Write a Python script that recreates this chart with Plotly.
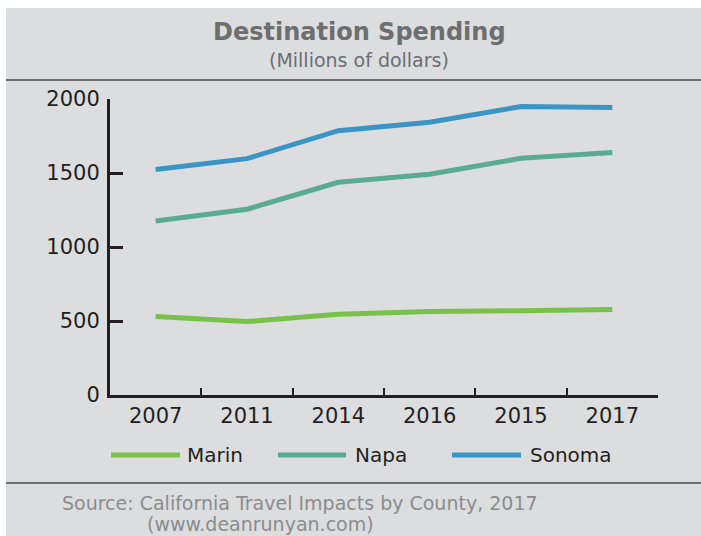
import plotly.graph_objects as go

# Data (millions of dollars)
years = ["2007", "2011", "2014", "2016", "2015", "2017"]
marin = [530, 496, 545, 564, 570, 577]
napa = [1176, 1255, 1437, 1491, 1599, 1638]
sonoma = [1523, 1597, 1786, 1843, 1949, 1942]
y_ticks = [0, 500, 1000, 1500, 2000]

series = [
    ("Marin", marin, "#79c14b"),
    ("Napa", napa, "#5aac90"),
    ("Sonoma", sonoma, "#3a94c4"),
]

W, H = 701, 536
ML, MR, MT, MB = 110, 43, 99, 141
PW, PH = W - ML - MR, H - MT - MB

BG = "#dcdddf"
DARK = "#231f20"
GREY = "#6d6e70"
FONT = "DejaVu Sans"


def px(xp):
    return (xp - ML) / PW


def py(yp):
    return (H - MB - yp) / PH


fig = go.Figure()
for name, vals, color in series:
    fig.add_trace(go.Scatter(
        x=years, y=vals, name=name, mode="lines",
        line=dict(color=color, width=5), showlegend=False,
    ))

shapes = [
    # grey panel with white border strip on top and left
    dict(type="rect", xref="paper", yref="paper", layer="below",
         x0=px(6), x1=px(W + 2), y0=py(H + 2), y1=py(8),
         fillcolor=BG, line=dict(width=0)),
    # separator rules
    dict(type="line", xref="paper", yref="paper",
         x0=px(6), x1=px(W + 2), y0=py(80), y1=py(80),
         line=dict(color=GREY, width=2)),
    dict(type="line", xref="paper", yref="paper",
         x0=px(6), x1=px(W + 2), y0=py(483), y1=py(483),
         line=dict(color=GREY, width=2)),
]

annotations = [
    dict(text="<b>Destination Spending</b>", xref="paper", yref="paper",
         x=px(359), y=py(32), showarrow=False, xanchor="center", yanchor="middle",
         font=dict(family=FONT, size=24, color=GREY)),
    dict(text="(Millions of dollars)", xref="paper", yref="paper",
         x=px(359), y=py(60), showarrow=False, xanchor="center", yanchor="middle",
         font=dict(family=FONT, size=19, color=GREY)),
    dict(text="Source: California Travel Impacts by County, 2017", xref="paper",
         yref="paper", x=px(60), y=py(503), showarrow=False, xanchor="left",
         yanchor="middle", font=dict(family=FONT, size=19, color="#8b8c8e")),
    dict(text="(www.deanrunyan.com)", xref="paper", yref="paper",
         x=px(145), y=py(524), showarrow=False, xanchor="left",
         yanchor="middle", font=dict(family=FONT, size=19, color="#8b8c8e")),
]

# legend drawn as line swatches with labels
legend_pos = [(111, 180, 185), (278, 346, 353), (452, 521, 528)]
for (name, _, color), (x0, x1, xt) in zip(series, legend_pos):
    shapes.append(dict(type="line", xref="paper", yref="paper",
                       x0=px(x0), x1=px(x1), y0=py(455), y1=py(455),
                       line=dict(color=color, width=5)))
    annotations.append(dict(text=name, xref="paper", yref="paper",
                            x=px(xt), y=py(455), showarrow=False,
                            xanchor="left", yanchor="middle",
                            font=dict(family=FONT, size=20, color=DARK)))

fig.update_layout(
    width=W, height=H,
    margin=dict(l=ML, r=MR, t=MT, b=MB, pad=0),
    paper_bgcolor="white",
    plot_bgcolor="rgba(0,0,0,0)",
    shapes=shapes,
    annotations=annotations,
    showlegend=False,
    xaxis=dict(
        type="category", range=[-0.5, 5.5],
        showline=True, linecolor=DARK, linewidth=3,
        ticks="inside", tickson="boundaries", ticklen=7, tickwidth=2,
        tickcolor=DARK, showgrid=False, zeroline=False,
        tickfont=dict(family=FONT, size=21, color=DARK),
        fixedrange=True,
    ),
    yaxis=dict(
        range=[0, 2000], tickvals=y_ticks,
        showline=True, linecolor=DARK, linewidth=3,
        ticks="inside", ticklen=13, tickwidth=3, tickcolor=DARK,
        ticklabelstandoff=3,
        showgrid=False, zeroline=False,
        tickfont=dict(family=FONT, size=21, color=DARK),
        fixedrange=True,
    ),
)

fig.write_html("out.html")
